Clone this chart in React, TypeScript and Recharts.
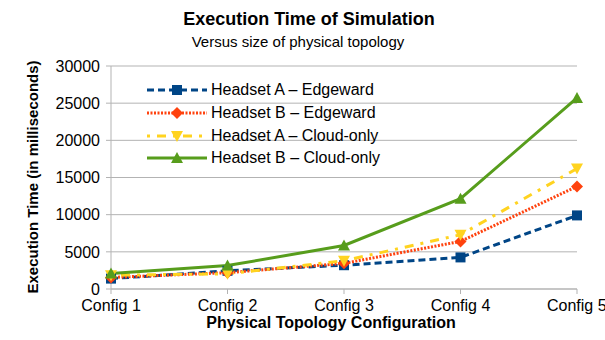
import React from 'react'
import { LineChart, Line, XAxis, YAxis, CartesianGrid } from 'recharts'

const configs = ['Config 1', 'Config 2', 'Config 3', 'Config 4', 'Config 5']
const headsetAEdge = [1400, 2450, 3200, 4250, 9900]
const headsetBEdge = [1550, 2200, 3450, 6400, 13800]
const headsetACloud = [1850, 2050, 3800, 7300, 16200]
const headsetBCloud = [2100, 3150, 5850, 12150, 25700]
const yTicks = [0, 5000, 10000, 15000, 20000, 25000, 30000]

const data = configs.map((name, i) => ({
  name,
  aEdge: headsetAEdge[i],
  bEdge: headsetBEdge[i],
  aCloud: headsetACloud[i],
  bCloud: headsetBCloud[i],
}))

const FONT = '"Liberation Sans", Arial, sans-serif'
const GRID = '#b3b3b3'

type Shape = 'square' | 'diamond' | 'down' | 'up'

const series = [
  { key: 'aEdge', name: 'Headset A – Edgeward', color: '#004586', dash: '7 4', shape: 'square' as Shape },
  { key: 'bEdge', name: 'Headset B – Edgeward', color: '#ff420e', dash: '2 1.5', shape: 'diamond' as Shape },
  { key: 'aCloud', name: 'Headset A – Cloud-only', color: '#ffd320', dash: '3 7 9 7', shape: 'down' as Shape },
  { key: 'bCloud', name: 'Headset B – Cloud-only', color: '#579d1c', dash: undefined, shape: 'up' as Shape },
]

function marker(shape: Shape, cx: number, cy: number, color: string, key?: string) {
  if (shape === 'square')
    return <rect key={key} x={cx - 5} y={cy - 5} width={10} height={10} fill={color} />
  if (shape === 'diamond')
    return <polygon key={key} points={`${cx},${cy - 6} ${cx + 6},${cy} ${cx},${cy + 6} ${cx - 6},${cy}`} fill={color} />
  if (shape === 'down')
    return <polygon key={key} points={`${cx - 6},${cy - 5} ${cx + 6},${cy - 5} ${cx},${cy + 6}`} fill={color} />
  return <polygon key={key} points={`${cx - 6},${cy + 5} ${cx + 6},${cy + 5} ${cx},${cy - 6}`} fill={color} />
}

// legend drawn by hand, sits inside the plot like the original
function LegendBox() {
  return (
    <div style={{ position: 'absolute', left: 147, top: 79, fontFamily: FONT, fontSize: 16, color: '#000' }}>
      {series.map((s) => (
        <div key={s.key} style={{ display: 'flex', alignItems: 'center', height: 22.7 }}>
          <svg width={64} height={16} style={{ display: 'block' }}>
            <line x1={0} y1={8} x2={60} y2={8} stroke={s.color} strokeWidth={3} strokeDasharray={s.dash} />
            {marker(s.shape, 30, 8, s.color)}
          </svg>
          <span style={{ whiteSpace: 'nowrap' }}>{s.name}</span>
        </div>
      ))}
    </div>
  )
}

export default function App() {
  return (
    <div style={{ position: 'absolute', left: 0, top: 0, width: 605, height: 340, background: '#fff', fontFamily: FONT }}>
      <div style={{ position: 'absolute', left: 0, width: 618, top: 9, textAlign: 'center', fontWeight: 'bold', fontSize: 18 }}>
        Execution Time of Simulation
      </div>
      <div style={{ position: 'absolute', left: 0, width: 596, top: 33, textAlign: 'center', fontSize: 15 }}>
        Versus size of physical topology
      </div>
      <div
        style={{
          position: 'absolute',
          left: 32,
          top: 177,
          transform: 'translate(-50%, -50%) rotate(-90deg)',
          whiteSpace: 'nowrap',
          fontWeight: 'bold',
          fontSize: 15,
        }}
      >
        Execution Time (in milliseconds)
      </div>
      <div style={{ position: 'absolute', left: 0, width: 662, top: 314, textAlign: 'center', fontWeight: 'bold', fontSize: 16 }}>
        Physical Topology Configuration
      </div>
      <LineChart width={605} height={340} data={data} margin={{ top: 66, right: 28, bottom: 0, left: 0 }}>
        <CartesianGrid vertical={false} stroke={GRID} />
        <XAxis
          dataKey="name"
          height={51}
          stroke={GRID}
          tickSize={5}
          tickMargin={6}
          tick={{ fill: '#000', fontSize: 16, fontFamily: FONT }}
        />
        <YAxis
          width={111}
          domain={[0, 30000]}
          ticks={yTicks}
          stroke={GRID}
          tickSize={5}
          tickMargin={6}
          tick={{ fill: '#000', fontSize: 16, fontFamily: FONT }}
        />
        {series.map((s) => (
          <Line
            key={s.key}
            dataKey={s.key}
            name={s.name}
            stroke={s.color}
            strokeWidth={3}
            strokeDasharray={s.dash}
            isAnimationActive={false}
            dot={(p: any) => marker(s.shape, p.cx, p.cy, s.color, `${s.key}-${p.index}`)}
            activeDot={false}
          />
        ))}
      </LineChart>
      <LegendBox />
    </div>
  )
}
